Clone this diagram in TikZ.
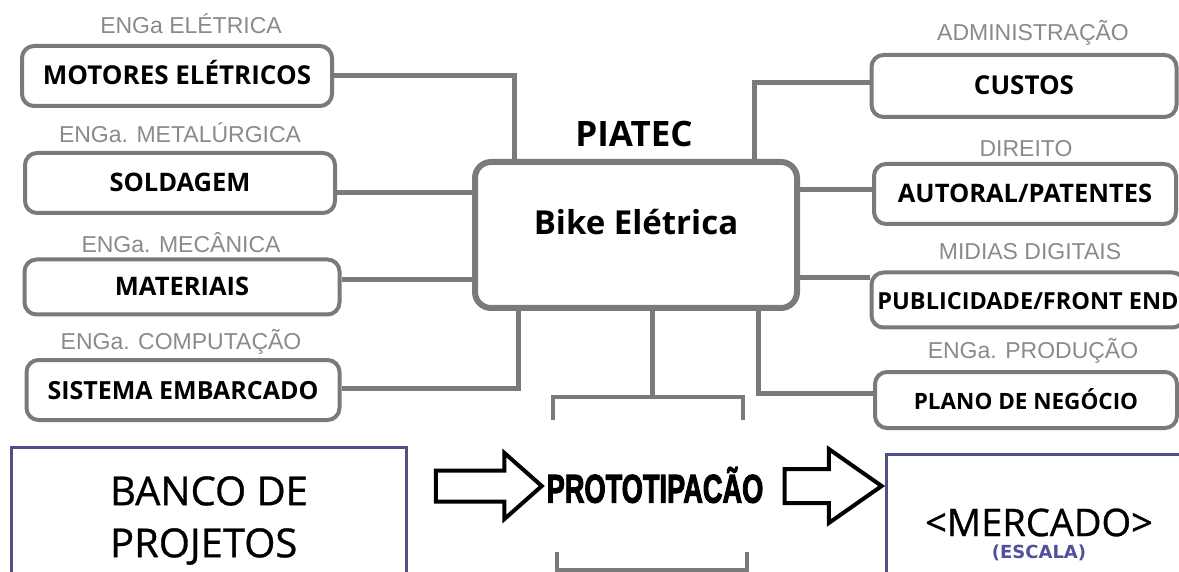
\documentclass[tikz,border=0pt]{standalone}
\usepackage{fontspec}
\usepackage{graphicx}
\setmainfont{Open Sans}
\newfontfamily\labelfont{Liberation Sans}
\newfontfamily\midfont{Open Sans}[FakeBold=0.8]
\newfontfamily\heavyfont{Liberation Sans}[BoldFeatures={FakeBold=3}]
\newfontfamily\escalafont{DejaVu Sans}
\usetikzlibrary{shapes.arrows}
\definecolor{linegray}{HTML}{7A7A7A}
\definecolor{labelgray}{HTML}{8A8A8A}
\definecolor{frameblue}{HTML}{4D508C}
\definecolor{escalablue}{HTML}{5050A0}
\newcommand\fsz[1]{\fontsize{#1}{#1}\selectfont}
\begin{document}
\begin{tikzpicture}[x=1pt,y=-1pt,
    area/.style={draw=linegray,line width=4pt,rounded corners=12pt,fill=white,
      inner sep=0pt,text height=18pt,text depth=0pt,
      font=\fsz{25.5}\bfseries},
    dept/.style={text=labelgray,anchor=base,inner sep=0pt,
      font=\labelfont\fsz{23}},
    link/.style={draw=linegray,line width=5pt},
    bigarrow/.style={single arrow,draw=black,line width=4pt,fill=white,
      inner xsep=0pt,text height=0pt,text depth=0pt},
    frame/.style={draw=frameblue,line width=3pt,anchor=north west,inner sep=0pt}]
    \useasboundingbox (0,0) rectangle (1179,572);
    %% central box
    \node[font=\fsz{35}\bfseries,anchor=base] (piatec) at (634,147) {PIATEC};
    \node[area,line width=6pt,rounded corners=16pt,minimum width=322pt,minimum height=146pt,
      text height=22pt,text depth=22pt,font=\fsz{33}\bfseries]
      (bike) at (636,235) {Bike Elétrica};
    %% left column
    \node[area,font=\fsz{26}\bfseries,minimum width=310pt,minimum height=60pt] (motor) at (177,76) {MOTORES ELÉTRICOS};
    \node[area,minimum width=310pt,minimum height=60pt] (sold) at (180,183) {SOLDAGEM};
    \node[area,minimum width=315pt,minimum height=55pt] (mat) at (182,287) {MATERIAIS};
    \node[area,font=\fsz{25}\bfseries,minimum width=313pt,minimum height=60pt] (sist) at (183,390) {SISTEMA EMBARCADO};
    \node[dept] (deptA) at (191,34) {ENGa ELÉTRICA};
    \node[dept] (deptB) at (180,143) {ENGa. METALÚRGICA};
    \node[dept] (deptC) at (181,253) {ENGa. MECÂNICA};
    \node[dept] (deptD) at (181,349) {ENGa. COMPUTAÇÃO};
    %% right column
    \node[area,font=\fsz{26}\bfseries,minimum width=305pt,minimum height=62pt] (custos) at (1024,86) {CUSTOS};
    \node[area,minimum width=302pt,minimum height=60pt] (autoral) at (1025,194) {AUTORAL/PATENTES};
    \node[area,font=\fsz{23.5}\bfseries,minimum width=313pt,minimum height=55pt] (public) at (1028,300) {PUBLICIDADE/FRONT END};
    \node[area,font=\fsz{22.5}\bfseries,minimum width=302pt,minimum height=56pt] (plano) at (1026,400) {PLANO DE NEGÓCIO};
    \node[dept] (deptE) at (1033,41) {ADMINISTRAÇÃO};
    \node[dept] (deptF) at (1026,157) {DIREITO};
    \node[dept] (deptG) at (1030,260) {MIDIAS DIGITAIS};
    \node[dept] (deptH) at (1033,358) {ENGa. PRODUÇÃO};
    %% links to the center
    \draw[link] (motor.east) -| ([xshift=-122pt]bike.north);
    \draw[link] (sold.east |- 0,193) -- (bike.west |- 0,193);
    \draw[link] (mat.east |- 0,280) -- (bike.west |- 0,280);
    \draw[link] (sist.east |- 0,388) -| ([xshift=-118pt]bike.south);
    \draw[link] (custos.west |- 0,83) -| ([xshift=118pt]bike.north);
    \draw[link] (autoral.west |- 0,190) -- (bike.east |- 0,190);
    \draw[link] (public.west |- 0,278) -- (bike.east |- 0,278);
    \draw[link] (plano.west |- 0,393) -| ([xshift=122pt]bike.south);
    %% brackets round the prototype
    \coordinate (topL) at (553,420);
    \coordinate (topR) at (743,420);
    \coordinate (botL) at (557,552);
    \coordinate (botR) at (747,552);
    \draw[link] ([xshift=16pt]bike.south) -- ([xshift=16pt]bike.south |- 0,397);
    \draw[link,line width=4pt] (topL) -- ++(0,-23) -| (topR);
    \draw[link,line width=4pt] (botL) -- ++(0,18) -| (botR);
    %% bottom row
    \node[frame,minimum width=395pt,minimum height=146pt,align=left,
      font=\midfont\fontsize{40}{52}\selectfont] (banco) at (10,446) {BANCO DE\\PROJETOS};
    \node[bigarrow,inner ysep=13.5pt,single arrow head extend=17.5pt,single arrow tip angle=83,
      minimum height=106pt] (arrA) at (480,486) {};
    \node[font=\heavyfont\bfseries\fsz{40}] (proto) at (655,485)
      {\scalebox{0.68}[1]{PROTOTIPACÃO}};
    \node[bigarrow,inner ysep=15pt,single arrow head extend=20pt,single arrow tip angle=70,
      minimum height=97pt] (arrB) at (821,486) {};
    \node[frame,minimum width=305pt,minimum height=160pt,align=center] (merc) at (885,453)
      {{\midfont\fsz{38}<MERCADO>}\\[7pt]
       {\escalafont\bfseries\color{escalablue}\fsz{18}(ESCALA)}};
\end{tikzpicture}
\end{document}
